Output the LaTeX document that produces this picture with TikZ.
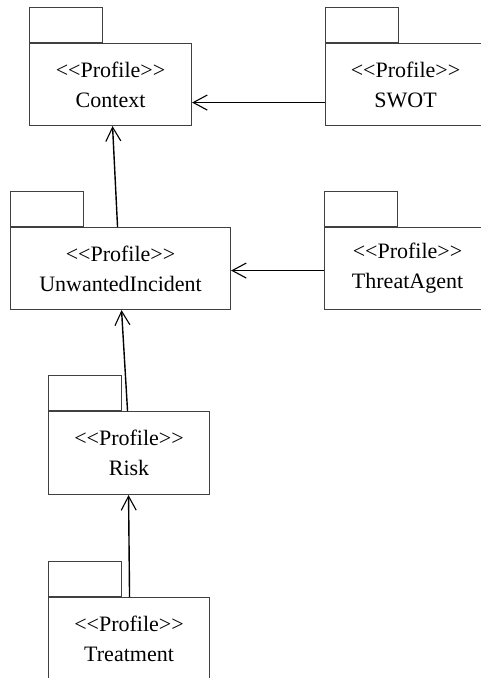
\documentclass[tikz,border=0pt]{standalone}
\usepackage{fontspec}
\setmainfont{Liberation Serif}
\usetikzlibrary{arrows.meta}
% stereotype label, with kerns so that << and >> stay as two brackets
\newcommand\stereo[1]{<\kern0pt<#1>\kern0pt>}
\begin{document}
\begin{tikzpicture}[x=1pt,y=-1pt,
  pkg/.style={draw=black!75, line width=1.1pt, fill=white, rectangle, inner sep=0pt,
    align=center, anchor=north west, minimum height=82pt,
    font=\fontsize{22}{30}\selectfont},
  pkgtab/.style={draw=black!75, line width=1.1pt, rectangle, inner sep=0pt,
    anchor=south west, minimum width=73pt, minimum height=35pt},
  dep/.style={draw=black, line width=1.4pt,
    -{Straight Barb[length=14pt,width=15pt,line width=1.1pt]}}]
\useasboundingbox (0,0) rectangle (480,678);

% package bodies with their tabs
\node[pkg, minimum width=162pt] (context) at (29,43) {\stereo{Profile}\\Context};
\node[pkgtab] (contexttab) at (context.north west) {};

\node[pkg, minimum width=160pt] (swot) at (325,43) {\stereo{Profile}\\SWOT};
\node[pkgtab] (swottab) at (swot.north west) {};

\node[pkg, minimum width=220pt] (ui) at (10,227) {\stereo{Profile}\\UnwantedIncident};
\node[pkgtab] (uitab) at (ui.north west) {};

\node[pkg, minimum width=166pt] (threat) at (324,227) {\stereo{Profile}\\ThreatAgent};
\node[pkgtab] (threattab) at (threat.north west) {};

\node[pkg, minimum width=161pt, minimum height=83pt] (risk) at (48,411) {\stereo{Profile}\\Risk};
\node[pkgtab] (risktab) at (risk.north west) {};

\node[pkg, minimum width=161pt, minimum height=83pt] (treat) at (48,597) {\stereo{Profile}\\Treatment};
\node[pkgtab] (treattab) at (treat.north west) {};

% dependencies between the profiles
\draw[dep] ([yshift=-18pt]swot.west) -- ([yshift=-18pt]context.east);
\draw[dep] ([yshift=-2pt]threat.west) -- ([yshift=-2pt]ui.east);
\draw[dep] ([xshift=-3pt]ui.north) -- ([xshift=2pt]context.south);
\draw[dep] ([xshift=-1.5pt]risk.north) -- ([xshift=1pt]ui.south);
\draw[dep] ([xshift=0.5pt]treat.north) -- ([xshift=-0.5pt]risk.south);
\end{tikzpicture}
\end{document}
